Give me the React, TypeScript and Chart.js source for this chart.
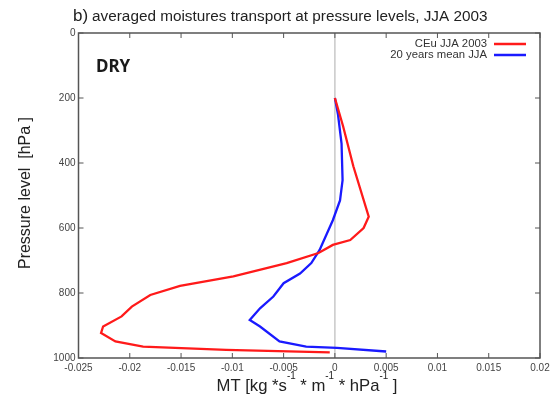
import React, { useEffect, useRef } from "react";
import { Chart, registerables } from "chart.js";
Chart.register(...registerables);

const xTicks = [-0.025, -0.02, -0.015, -0.01, -0.005, 0, 0.005, 0.01, 0.015, 0.02];
const yTicks = [0, 200, 400, 600, 800, 1000];

const redPressure = [200, 287, 410, 565, 600, 637, 652, 677, 708, 749, 778, 806, 842, 872, 903, 923, 949, 965, 975, 983];
const redMT = [0, 0.0008, 0.0018, 0.0033, 0.0028, 0.0015, -0.0002, -0.0016, -0.0047, -0.0099, -0.0151, -0.018, -0.0198, -0.0208, -0.0226, -0.0228, -0.0214, -0.0187, -0.0106, -0.0005];

const bluePressure = [200, 250, 340, 453, 515, 576, 668, 708, 740, 770, 811, 847, 883, 903, 949, 965, 969, 980];
const blueMT = [0, 0.0003, 0.00065, 0.00075, 0.0005, -0.0002, -0.0015, -0.0023, -0.0034, -0.005, -0.006, -0.0073, -0.0083, -0.0073, -0.0054, -0.0028, 0.0002, 0.005];

const seriesNames = ["CEu JJA 2003", "20 years mean JJA"];
const seriesColors = ["#ff1a1a", "#1a1aff"];
const titleText = "averaged moistures transport at pressure levels, JJA 2003";
const panelLabel = "b)";
const yTitle = "Pressure level  [hPa ]";
const regimeLabel = "DRY";

const FONT = "'Liberation Sans', Arial, sans-serif";

const decorPlugin = {
  id: "decor",
  beforeDatasetsDraw(chart: any) {
    const { ctx, chartArea: a, scales } = chart;
    const x0 = scales.x.getPixelForValue(0);
    ctx.save();
    ctx.strokeStyle = "#c8c8c8";
    ctx.lineWidth = 1.5;
    ctx.beginPath();
    ctx.moveTo(x0, a.top);
    ctx.lineTo(x0, a.bottom);
    ctx.stroke();
    ctx.restore();
  },
  afterDraw(chart: any) {
    const { ctx, chartArea: a, scales } = chart;
    ctx.save();
    // frame
    ctx.strokeStyle = "#555";
    ctx.lineWidth = 1.5;
    ctx.strokeRect(a.left, a.top, a.right - a.left, a.bottom - a.top);
    // inward ticks
    ctx.lineWidth = 1;
    ctx.beginPath();
    const tl = 5;
    xTicks.forEach((v) => {
      const px = scales.x.getPixelForValue(v);
      ctx.moveTo(px, a.bottom);
      ctx.lineTo(px, a.bottom - tl);
      ctx.moveTo(px, a.top);
      ctx.lineTo(px, a.top + tl);
    });
    yTicks.forEach((v) => {
      const py = scales.y.getPixelForValue(v);
      ctx.moveTo(a.left, py);
      ctx.lineTo(a.left + tl, py);
      ctx.moveTo(a.right, py);
      ctx.lineTo(a.right - tl, py);
    });
    ctx.stroke();

    // title
    ctx.fillStyle = "#222";
    ctx.textBaseline = "alphabetic";
    ctx.textAlign = "left";
    ctx.font = `17px ${FONT}`;
    ctx.fillText(panelLabel, 73, 21);
    const bw = ctx.measureText(panelLabel).width + 4;
    ctx.font = `15.3px ${FONT}`;
    ctx.fillText(titleText, 73 + bw, 21);

    // DRY label
    ctx.font = `bold 17px 'Noto Sans', Roboto, sans-serif`;
    ctx.fillStyle = "#1a1a1a";
    ctx.fillText(regimeLabel, 96, 72);

    // legend
    ctx.font = `11.3px ${FONT}`;
    ctx.textAlign = "right";
    ctx.textBaseline = "middle";
    const ly = [44, 55];
    seriesNames.forEach((n, i) => {
      ctx.fillStyle = "#333";
      ctx.fillText(n, 487, ly[i]);
      ctx.strokeStyle = seriesColors[i];
      ctx.lineWidth = 2.5;
      ctx.beginPath();
      ctx.moveTo(494, ly[i]);
      ctx.lineTo(526, ly[i]);
      ctx.stroke();
    });

    // y title
    ctx.save();
    ctx.translate(26, 193);
    ctx.rotate(-Math.PI / 2);
    ctx.textAlign = "center";
    ctx.textBaseline = "middle";
    ctx.fillStyle = "#222";
    ctx.font = `16px ${FONT}`;
    ctx.fillText(yTitle, 0, 0);
    ctx.restore();

    // x title with superscripts
    const parts: [string, boolean][] = [
      ["MT [kg *s", false], ["-1", true], [" * m", false], ["-1", true], [" * hPa", false], ["-1", true], [" ]", false],
    ];
    const mainF = `17px ${FONT}`;
    const supF = `10px ${FONT}`;
    let total = 0;
    parts.forEach(([t, sup]) => {
      ctx.font = sup ? supF : mainF;
      total += ctx.measureText(t).width;
    });
    const targetW = 181;
    const sx = targetW / total;
    ctx.save();
    ctx.translate(307 - targetW / 2, 391);
    ctx.scale(sx, 1);
    let cx = 0;
    ctx.textAlign = "left";
    ctx.textBaseline = "alphabetic";
    ctx.fillStyle = "#222";
    parts.forEach(([t, sup]) => {
      ctx.font = sup ? supF : mainF;
      ctx.fillText(t, cx, sup ? -12 : 0);
      cx += ctx.measureText(t).width;
    });
    ctx.restore();
    ctx.restore();
  },
};

export default function App() {
  const ref = useRef<HTMLCanvasElement>(null);
  useEffect(() => {
    if (!ref.current) return;
    const mk = (p: number[], v: number[]) => p.map((pp, i) => ({ x: v[i], y: pp }));
    const chart = new Chart(ref.current, {
      type: "line",
      data: {
        datasets: [
          {
            label: seriesNames[0],
            data: mk(redPressure, redMT),
            borderColor: seriesColors[0],
            borderWidth: 2.3,
            pointRadius: 0,
            tension: 0,
            fill: false,
          },
          {
            label: seriesNames[1],
            data: mk(bluePressure, blueMT),
            borderColor: seriesColors[1],
            borderWidth: 2.3,
            pointRadius: 0,
            tension: 0,
            fill: false,
          },
        ],
      },
      options: {
        animation: false,
        responsive: false,
        maintainAspectRatio: false,
        layout: { padding: { top: 33, right: 14, left: 0, bottom: 0 } },
        plugins: { legend: { display: false }, title: { display: false }, tooltip: { enabled: false } },
        scales: {
          x: {
            type: "linear",
            min: -0.025,
            max: 0.02,
            afterBuildTicks: (s: any) => { s.ticks = xTicks.map((v) => ({ value: v })); },
            afterFit: (s: any) => { s.height = 43; },
            grid: { display: false, drawTicks: false },
            border: { display: false },
            ticks: {
              padding: 4,
              color: "#444",
              font: { family: FONT, size: 10 },
              maxRotation: 0,
              autoSkip: false,
              callback: (v: any) => String(Math.round(Number(v) * 1000) / 1000),
            },
          },
          y: {
            type: "linear",
            reverse: true,
            min: 0,
            max: 1000,
            afterBuildTicks: (s: any) => { s.ticks = yTicks.map((v) => ({ value: v })); },
            afterFit: (s: any) => { s.width = 78.5; },
            grid: { display: false, drawTicks: false },
            border: { display: false },
            ticks: {
              padding: 3,
              color: "#444",
              font: { family: FONT, size: 10 },
              autoSkip: false,
              callback: (v: any) => String(v),
            },
          },
        },
      },
      plugins: [decorPlugin],
    } as any);
    return () => chart.destroy();
  }, []);
  return (
    <div style={{ position: "fixed", left: 0, top: 0, width: 554, height: 401, background: "#fff" }}>
      <canvas ref={ref} width={554} height={401} style={{ width: 554, height: 401 }} />
    </div>
  );
}
